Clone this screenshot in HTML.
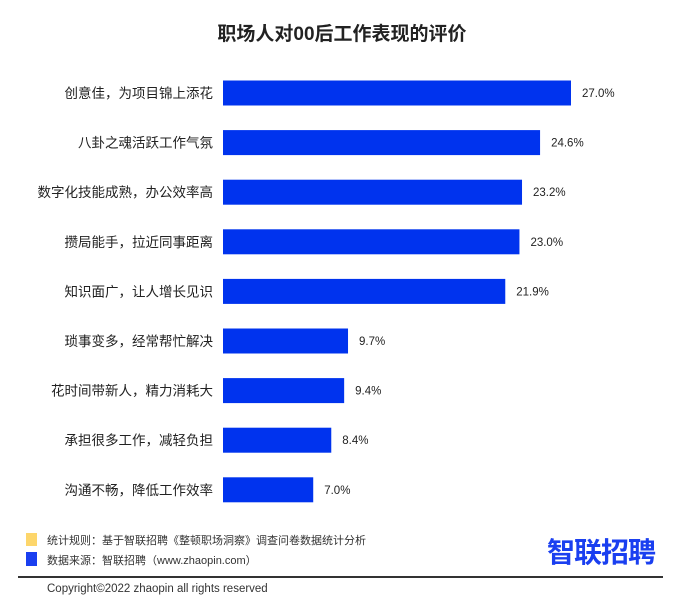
<!DOCTYPE html>
<html><head><meta charset="utf-8"><style>
body{margin:0;width:684px;height:613px;background:#fff;font-family:"Liberation Sans","Noto Sans CJK SC",sans-serif;position:relative;overflow:hidden}
.t{position:absolute;white-space:nowrap}
</style></head><body>
<div class="t" style="left:0;width:684px;text-align:center;top:19px;font-size:19px;font-weight:bold;color:#222">职场人对00后工作表现的评价</div>
<svg id="chart" width="684" height="520" style="position:absolute;left:0;top:0"></svg>
<div style="position:absolute;left:26px;top:533px;width:11px;height:13px;background:#fdd66b"></div>
<div class="t" style="left:47px;top:532px;font-size:11px;color:#333">统计规则：基于智联招聘《整顿职场洞察》调查问卷数据统计分析</div>
<div style="position:absolute;left:26px;top:552px;width:11px;height:14px;background:#1a3ff0"></div>
<div class="t" style="left:47px;top:552px;font-size:11px;color:#333">数据来源：智联招聘（www.zhaopin.com）</div>
<div class="t" style="left:547px;top:531px;font-size:28px;font-weight:bold;color:#1a3ff0;letter-spacing:-1px">智联招聘</div>
<div style="position:absolute;left:18px;top:576px;width:645px;height:2px;background:#333"></div>
<div class="t" style="left:47px;top:583px;font-size:11.5px;color:#333">Copyright©2022 zhaopin all rights reserved</div>
<script>
const categories=["创意佳，为项目锦上添花","八卦之魂活跃工作气氛","数字化技能成熟，办公效率高","攒局能手，拉近同事距离","知识面广，让人增长见识","琐事变多，经常帮忙解决","花时间带新人，精力消耗大","承担很多工作，减轻负担","沟通不畅，降低工作效率"];
const values=[27.0,24.6,23.2,23.0,21.9,9.7,9.4,8.4,7.0];
const valueLabels=["27.0%","24.6%","23.2%","23.0%","21.9%","9.7%","9.4%","8.4%","7.0%"];
const svg=document.getElementById('chart');
const NS='http://www.w3.org/2000/svg';
const x0=223, pxPer=348/27;
const xScale=v=>v*pxPer;
const yScale=i=>93+i*49.6;
categories.forEach((c,i)=>{
  const cy=yScale(i);
  const r=document.createElementNS(NS,'rect');
  r.setAttribute('x',x0);r.setAttribute('y',cy-12.5);r.setAttribute('width',xScale(values[i]));r.setAttribute('height',25);r.setAttribute('fill','#0033ee');
  
  
  svg.appendChild(r);
  const l=document.createElementNS(NS,'text');
  l.setAttribute('x',213);l.setAttribute('y',cy+5);l.setAttribute('text-anchor','end');l.setAttribute('font-size','13.5');l.setAttribute('fill','#222');l.textContent=c;
  
  
  svg.appendChild(l);
  const v=document.createElementNS(NS,'text');
  v.setAttribute('x',x0+xScale(values[i])+11);v.setAttribute('y',cy+4);v.setAttribute('font-size','11.5');v.setAttribute('fill','#222');v.textContent=valueLabels[i];
  
  
  svg.appendChild(v);
});
</script>
</body></html>
